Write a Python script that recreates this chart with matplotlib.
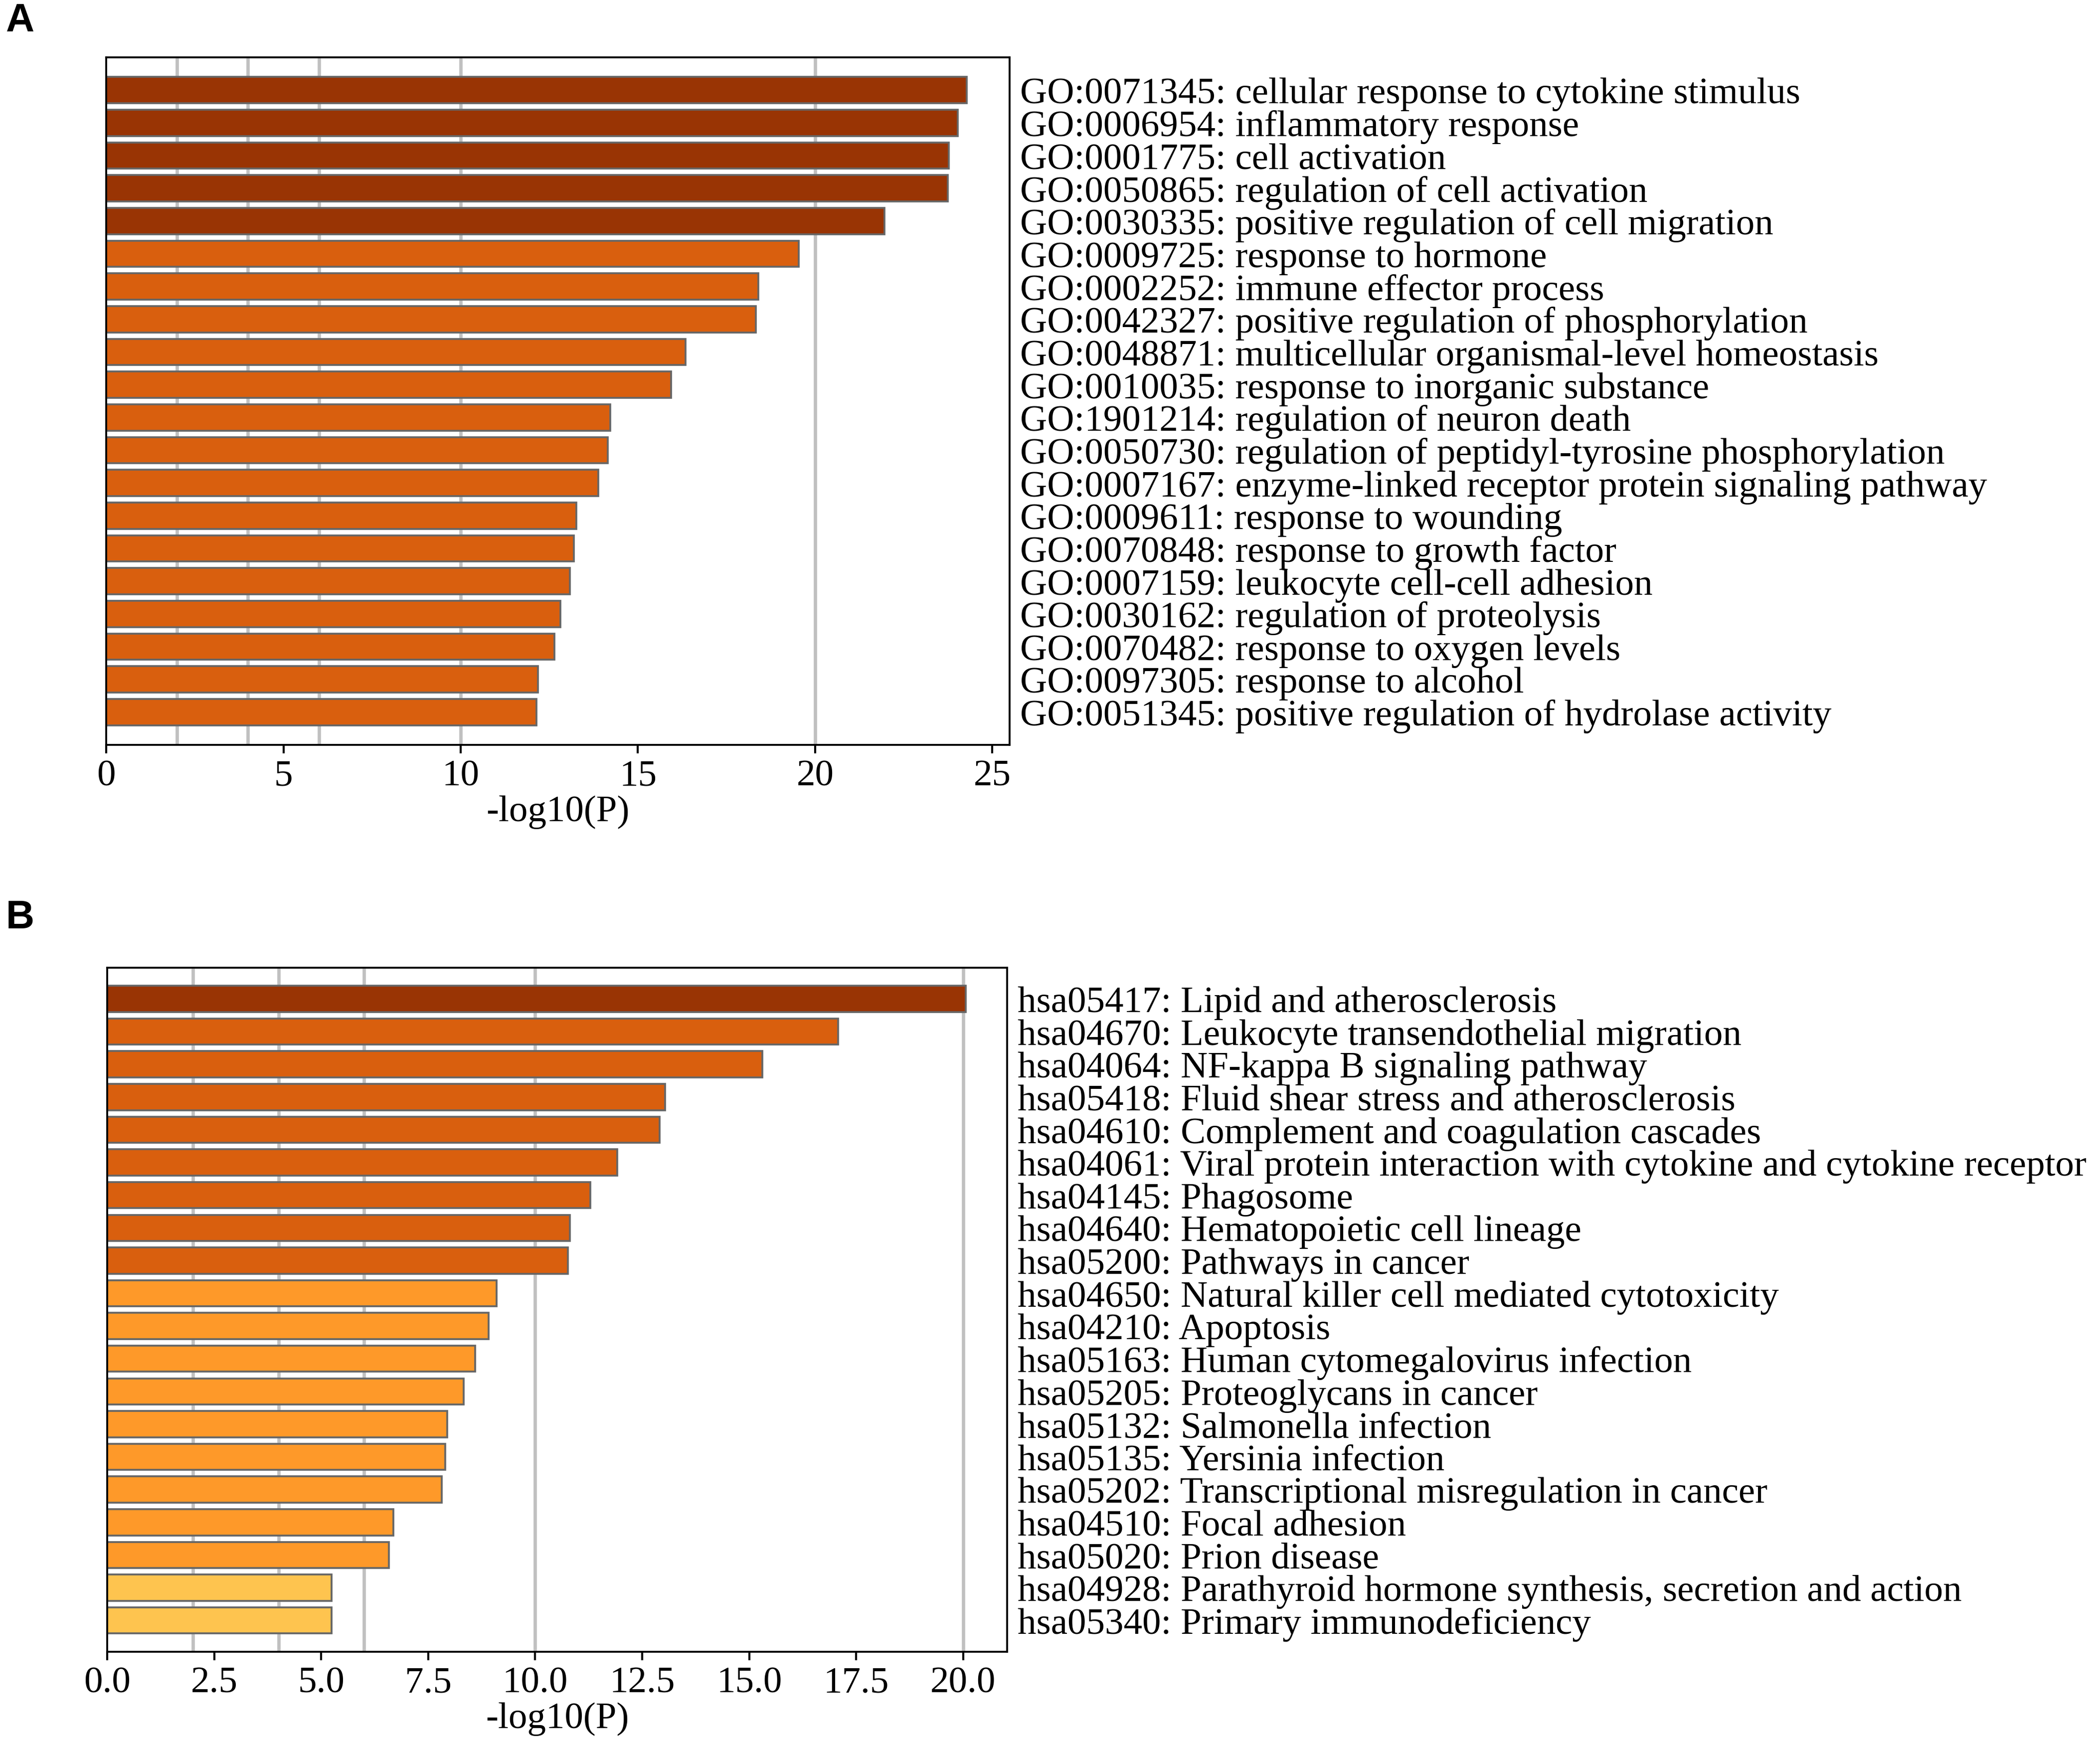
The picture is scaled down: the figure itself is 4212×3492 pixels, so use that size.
import matplotlib
matplotlib.use("Agg")
import matplotlib.pyplot as plt

plt.rcParams['font.family'] = ['Liberation Serif', 'DejaVu Serif']

go_terms = [
    "GO:0071345: cellular response to cytokine stimulus",
    "GO:0006954: inflammatory response",
    "GO:0001775: cell activation",
    "GO:0050865: regulation of cell activation",
    "GO:0030335: positive regulation of cell migration",
    "GO:0009725: response to hormone",
    "GO:0002252: immune effector process",
    "GO:0042327: positive regulation of phosphorylation",
    "GO:0048871: multicellular organismal-level homeostasis",
    "GO:0010035: response to inorganic substance",
    "GO:1901214: regulation of neuron death",
    "GO:0050730: regulation of peptidyl-tyrosine phosphorylation",
    "GO:0007167: enzyme-linked receptor protein signaling pathway",
    "GO:0009611: response to wounding",
    "GO:0070848: response to growth factor",
    "GO:0007159: leukocyte cell-cell adhesion",
    "GO:0030162: regulation of proteolysis",
    "GO:0070482: response to oxygen levels",
    "GO:0097305: response to alcohol",
    "GO:0051345: positive regulation of hydrolase activity",
]
go_values = [24.28, 24.03, 23.77, 23.74, 21.96, 19.54, 18.40, 18.33, 16.35, 15.94,
             14.22, 14.15, 13.88, 13.27, 13.20, 13.08, 12.82, 12.65, 12.18, 12.14]
go_level = [0, 0, 0, 0, 0, 1, 1, 1, 1, 1, 1, 1, 1, 1, 1, 1, 1, 1, 1, 1]

kegg_terms = [
    "hsa05417: Lipid and atherosclerosis",
    "hsa04670: Leukocyte transendothelial migration",
    "hsa04064: NF-kappa B signaling pathway",
    "hsa05418: Fluid shear stress and atherosclerosis",
    "hsa04610: Complement and coagulation cascades",
    "hsa04061: Viral protein interaction with cytokine and cytokine receptor",
    "hsa04145: Phagosome",
    "hsa04640: Hematopoietic cell lineage",
    "hsa05200: Pathways in cancer",
    "hsa04650: Natural killer cell mediated cytotoxicity",
    "hsa04210: Apoptosis",
    "hsa05163: Human cytomegalovirus infection",
    "hsa05205: Proteoglycans in cancer",
    "hsa05132: Salmonella infection",
    "hsa05135: Yersinia infection",
    "hsa05202: Transcriptional misregulation in cancer",
    "hsa04510: Focal adhesion",
    "hsa05020: Prion disease",
    "hsa04928: Parathyroid hormone synthesis, secretion and action",
    "hsa05340: Primary immunodeficiency",
]
kegg_values = [20.06, 17.08, 15.31, 13.04, 12.91, 11.92, 11.29, 10.81, 10.76, 9.10,
               8.91, 8.60, 8.33, 7.94, 7.90, 7.82, 6.69, 6.58, 5.24, 5.24]
kegg_level = [0, 1, 1, 1, 1, 1, 1, 1, 1, 2, 2, 2, 2, 2, 2, 2, 2, 2, 3, 3]

palette = ["#993404", "#D95F0E", "#FE9929", "#FEC44F"]
grid_x = [2, 4, 6, 10, 20]

fig = plt.figure(figsize=(14.04, 11.643), dpi=300)
axA = fig.add_axes([0.0506, 0.572, 0.4302, 0.3948])
axB = fig.add_axes([0.0511, 0.0512, 0.4285, 0.3928])

FS = 18

def draw(ax, terms, values, levels, xmax, ylim, xticks, xticklabels):
    n = len(terms)
    ys = list(range(n))
    for gx in grid_x:
        ax.axvline(gx, color="#C0C0C0", lw=1.6, zorder=0)
    ax.barh(ys, values, height=0.8, color=[palette[l] for l in levels],
            edgecolor="#666666", linewidth=0.9, zorder=2)
    ax.set_xlim(0, xmax)
    ax.set_ylim(*ylim)
    ax.set_yticks(ys)
    ax.set_yticklabels(terms, fontsize=FS)
    ax.yaxis.tick_right()
    ax.tick_params(axis='y', length=0, pad=5)
    ax.set_xticks(xticks)
    ax.set_xticklabels(xticklabels, fontsize=FS)
    ax.tick_params(axis='x', length=4, width=1.0, pad=3)
    ax.set_xlabel("-log10(P)", fontsize=FS, labelpad=1)
    for s in ax.spines.values():
        s.set_linewidth(0.9)

draw(axA, go_terms, go_values, go_level, 25.49, (20.0, -1.0),
     [0, 5, 10, 15, 20, 25], ["0", "5", "10", "15", "20", "25"])
draw(axB, kegg_terms, kegg_values, kegg_level, 21.03, (19.96, -0.95),
     [0, 2.5, 5, 7.5, 10, 12.5, 15, 17.5, 20],
     ["0.0", "2.5", "5.0", "7.5", "10.0", "12.5", "15.0", "17.5", "20.0"])

fig.text(0.0027, 0.9878, "A", fontsize=19, fontweight="bold",
         family=["Liberation Sans", "DejaVu Sans"], va="center", ha="left")
fig.text(0.0027, 0.4728, "B", fontsize=19, fontweight="bold",
         family=["Liberation Sans", "DejaVu Sans"], va="center", ha="left")

fig.savefig("out.png", dpi=300, facecolor="white")
